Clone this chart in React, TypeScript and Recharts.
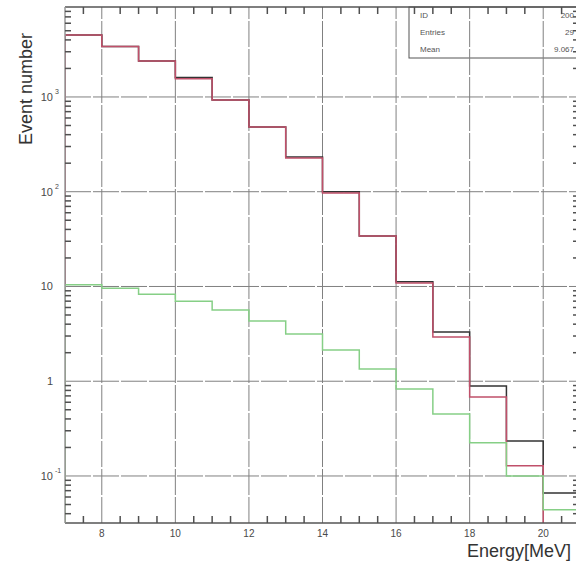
import React from 'react';
import { LineChart, Line, XAxis, YAxis, ReferenceLine, ReferenceDot } from 'recharts';

// bin edges (MeV), one value per bin [edge i, edge i+1)
const binEdges = [7, 8, 9, 10, 11, 12, 13, 14, 15, 16, 17, 18, 19, 20, 21];
const blackCounts = [4500, 3400, 2400, 1600, 930, 482, 232, 100, 34, 11.2, 3.3, 0.89, 0.234, 0.066];
const redCounts = [4500, 3400, 2400, 1560, 930, 482, 227, 97, 34, 10.9, 2.93, 0.68, 0.128, 0];
const greenCounts = [10.4, 9.6, 8.3, 7.0, 5.65, 4.33, 3.16, 2.14, 1.35, 0.83, 0.45, 0.224, 0.1, 0.044];

const xMajorTicks = [8, 10, 12, 14, 16, 18, 20];
const xMinorTicks = [7.5, 8.5, 9, 9.5, 10.5, 11, 11.5, 12.5, 13, 13.5, 14.5, 15, 15.5, 16.5, 17, 17.5, 18.5, 19, 19.5, 20.5];
const yMajorTicks = [0.1, 1, 10, 100, 1000];
const yMinorMultipliers = [2, 3, 4, 5, 6, 7, 8, 9];
const yDecades = [0.01, 0.1, 1, 10, 100, 1000];

const statsRows = [
  { name: 'ID', value: '200' },
  { name: 'Entries', value: '29' },
  { name: 'Mean', value: '9.067' },
];

const X_MIN = 7;
const X_MAX = 21;
const Y_MIN = 0.0319;
const Y_MAX = 8900;
const FLOOR = 1e-4; // empty bin, drawn below the frame

const CHART_W = 582;
const MARGIN = { top: 7, right: 2, bottom: 0, left: 0 };
const PLOT_TOP = MARGIN.top;
const PLOT_RIGHT = CHART_W - MARGIN.right;

const yMinorTicks = yDecades
  .flatMap((d) => yMinorMultipliers.map((m) => +(d * m).toPrecision(3)))
  .filter((v) => v > Y_MIN && v < Y_MAX);

const val = (v: number) => (v > 0 ? v : FLOOR);

// step data: start from the floor at the first edge, then one point per bin
const data = [
  { x: binEdges[0], black: FLOOR, red: FLOOR, green: FLOOR },
  ...binEdges.map((x, i) => {
    const k = Math.min(i, blackCounts.length - 1);
    return { x, black: val(blackCounts[k]), red: val(redCounts[k]), green: val(greenCounts[k]) };
  }),
];

const FONT = '"Liberation Sans", Arial, sans-serif';
const AXIS = '#555';
const LABEL = '#4a4a4a';
const TICK = '#505050';

const YTick = ({ x, y, payload }: any) => {
  const v = payload.value as number;
  const exp = Math.round(Math.log10(v));
  const base = exp === 0 ? '1' : '10';
  const sup = exp === 0 || exp === 1 ? '' : String(exp);
  return (
    <g>
      <text x={x - 12} y={y + 4} textAnchor="end" fontSize={11} fill={LABEL} fontFamily={FONT}>
        {base}
      </text>
      {sup && (
        <text x={x - 10} y={y - 3} textAnchor="start" fontSize={7} fill={LABEL} fontFamily={FONT}>
          {sup}
        </text>
      )}
    </g>
  );
};

const XTick = ({ x, y, payload }: any) => (
  <text x={x} y={y + 14} textAnchor="middle" fontSize={10} fill={LABEL} fontFamily={FONT}>
    {payload.value}
  </text>
);

// inward tick marks on bottom + top frame, placed by the x scale
const XMinorMark = ({ cx, cy }: any) => (
  <g>
    <line x1={cx} x2={cx} y1={cy - 7} y2={cy} stroke={TICK} strokeWidth={1.5} />
    <line x1={cx} x2={cx} y1={PLOT_TOP} y2={PLOT_TOP + 7} stroke={TICK} strokeWidth={1.5} />
  </g>
);

// inward tick marks on left + right frame, placed by the y scale
const YMinorMark = ({ cx, cy }: any) => (
  <g>
    <line x1={cx} x2={cx + 6} y1={cy} y2={cy} stroke={TICK} strokeWidth={1.5} />
    <line x1={PLOT_RIGHT - 7} x2={PLOT_RIGHT} y1={cy} y2={cy} stroke={TICK} strokeWidth={1.5} />
  </g>
);

const gridStyle = { stroke: '#808080', strokeWidth: 1, strokeDasharray: '26 2' };

const App: React.FC = () => {
  return (
    <div style={{ position: 'absolute', left: 0, top: 0, width: 576, height: 562, overflow: 'hidden', background: '#fff' }}>
      <LineChart width={CHART_W} height={562} data={data} margin={MARGIN}>
        <XAxis
          xAxisId="main"
          dataKey="x"
          type="number"
          domain={[X_MIN, X_MAX]}
          ticks={xMajorTicks}
          interval={0}
          allowDataOverflow
          height={39}
          tickSize={0}
          tickMargin={0}
          tickLine={false}
          axisLine={{ stroke: AXIS, strokeWidth: 1.5 }}
          tick={<XTick />}
        />
        <XAxis xAxisId="top" orientation="top" type="number" domain={[X_MIN, X_MAX]} allowDataOverflow
          mirror tick={false} tickLine={false} axisLine={{ stroke: AXIS, strokeWidth: 1.5 }} />

        <YAxis
          yAxisId="main"
          scale="log"
          domain={[Y_MIN, Y_MAX]}
          allowDataOverflow
          ticks={yMajorTicks}
          interval={0}
          width={65}
          tickSize={0}
          tickMargin={0}
          tickLine={false}
          axisLine={{ stroke: '#999', strokeWidth: 1.5 }}
          tick={<YTick />}
        />
        <YAxis yAxisId="right" orientation="right" scale="log" domain={[Y_MIN, Y_MAX]} allowDataOverflow
          mirror tick={false} tickLine={false} axisLine={{ stroke: AXIS, strokeWidth: 1.5 }} />

        {xMajorTicks.map((v) => (
          <ReferenceLine key={`gx${v}`} xAxisId="main" yAxisId="main" x={v} {...gridStyle} />
        ))}
        {yMajorTicks.map((v) => (
          <ReferenceLine key={`gy${v}`} xAxisId="main" yAxisId="main" y={v} {...gridStyle} />
        ))}

        {xMinorTicks.map((v) => (
          <ReferenceDot key={`mx${v}`} xAxisId="main" yAxisId="main" x={v} y={Y_MIN} ifOverflow="visible" shape={XMinorMark} />
        ))}
        {yMinorTicks.map((v) => (
          <ReferenceDot key={`my${v}`} xAxisId="main" yAxisId="main" x={X_MIN} y={v} ifOverflow="visible" shape={YMinorMark} />
        ))}

        <Line xAxisId="main" yAxisId="main" type="stepAfter" dataKey="black" stroke="#333" strokeWidth={1.5} dot={false} isAnimationActive={false} />
        <Line xAxisId="main" yAxisId="main" type="stepAfter" dataKey="red" stroke="#c0506a" strokeWidth={1.5} dot={false} isAnimationActive={false} />
        <Line xAxisId="main" yAxisId="main" type="stepAfter" dataKey="green" stroke="#86cf86" strokeWidth={1.5} dot={false} isAnimationActive={false} />

        {/* stats box */}
        <rect x={409} y={7} width={180} height={51} fill="none" stroke="#555" strokeWidth={1} />
        {statsRows.map((r, i) => (
          <g key={r.name}>
            <text x={420} y={18 + i * 17} fontSize={8} fill="#555" fontFamily={FONT}>{r.name}</text>
            <text x={574} y={18 + i * 17} fontSize={8} fill="#555" fontFamily={FONT} textAnchor="end">{r.value}</text>
          </g>
        ))}

        <text x={571} y={557} textAnchor="end" fontSize={18} fill="#333" fontFamily={FONT}>Energy[MeV]</text>
        <text x={32} y={89} textAnchor="middle" fontSize={18} fill="#333" fontFamily={FONT} transform="rotate(-90 32 89)">
          Event number
        </text>
      </LineChart>
    </div>
  );
};

export default App;
